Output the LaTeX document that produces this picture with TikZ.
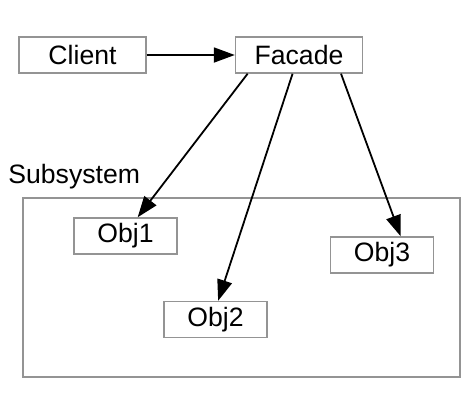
\documentclass[tikz,border=0pt]{standalone}
\usepackage{fontspec}
\setmainfont{Liberation Sans}
\usetikzlibrary{arrows.meta}
\usetikzlibrary{shapes}

\begin{document}
\begin{tikzpicture}[x = 0.5pt, y = -0.5pt, font=\fontsize{13.3}{15}\selectfont]
	\tikzstyle{boxStyle}=[shape = rectangle, draw = black!42, line width = 0.7pt, inner sep = 0pt, minimum height = 18pt]
	\tikzstyle{wideStyle}=[boxStyle, minimum width = 63.5pt]
	\tikzstyle{objStyle}=[boxStyle, minimum width = 51.5pt]
	\tikzstyle{callStyle}=[line width = 0.9pt, -{Triangle[length = 10.5pt, width = 7.5pt]}]
	\useasboundingbox (0,0) rectangle (474,403);
	\node[wideStyle] (client) at (82.5,55) {Client};
	\node[wideStyle] (facade) at (299,55) {Facade};
	\node[anchor = base west, inner sep = 0pt] (subLabel) at (8,183) {Subsystem};
	\draw[draw = black!42, line width = 0.7pt] (23,198) rectangle (460,377);
	\node[objStyle] (obj1) at (125.5,236) {Obj1};
	\node[objStyle] (obj2) at (215.5,319.5) {Obj2};
	\node[objStyle] (obj3) at (382,255) {Obj3};
	\draw[callStyle] (client) -- (facade);
	\draw[callStyle] (facade.200.6) -- (obj1.57);
	\draw[callStyle] (facade.251.6) -- (obj2.82);
	\draw[callStyle] (facade.336.8) -- (obj3.45);
\end{tikzpicture}
\end{document}
